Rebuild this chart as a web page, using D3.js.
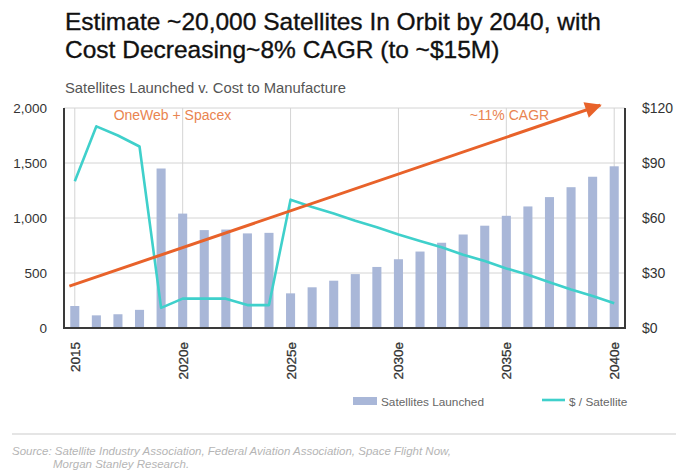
<!DOCTYPE html>
<html>
<head>
<meta charset="utf-8">
<script src="https://cdn.jsdelivr.net/npm/d3@7"></script>
<style>
  body { margin: 0; background: #fff; }
  svg { display: block; font-family: "Liberation Sans", Arial, sans-serif; }
</style>
</head>
<body>
<div id="chart"></div>
<script>
// years on the x axis
var years = [2015, 2016, 2017, 2018, 2019, 2020, 2021, 2022, 2023, 2024, 2025, 2026, 2027,
             2028, 2029, 2030, 2031, 2032, 2033, 2034, 2035, 2036, 2037, 2038, 2039, 2040];
var yearLabels = {2015: "2015", 2020: "2020e", 2025: "2025e", 2030: "2030e", 2035: "2035e", 2040: "2040e"};

// satellites launched (left axis)
var launched = [200, 115, 125, 165, 1450, 1040, 890, 895, 860, 865, 315, 370, 430,
                490, 555, 625, 695, 775, 850, 930, 1020, 1105, 1190, 1280, 1375, 1470];

// $ / satellite, $M (right axis)
var costPerSat = [80, 110, 105, 99, 11, 16, 16, 16, 12.5, 12.5, 70, 66, 62.5,
                  58.5, 55, 51, 47.5, 44, 40, 36.5, 32.5, 29, 25, 21, 17.5, 13.5];

var leftTicks = [0, 500, 1000, 1500, 2000];
var rightTicks = [0, 30, 60, 90, 120];

// ~11% CAGR arrow, in (year, satellites) units
var trendFrom = [2014.75, 380];
var trendTo = [2039.35, 2025];

var width = 676, height = 472;
var margin = {top: 108, right: 51, bottom: 144, left: 64};

var svg = d3.select("#chart").append("svg")
    .attr("width", width)
    .attr("height", height);

var x = d3.scaleBand()
    .domain(years)
    .range([margin.left, width - margin.right])
    .paddingInner(0.58)
    .paddingOuter(0.29);

var xYear = d3.scaleLinear()
    .domain([2015, 2040])
    .range([x(2015) + x.bandwidth() / 2, x(2040) + x.bandwidth() / 2]);

var yL = d3.scaleLinear().domain([0, 2000]).range([height - margin.bottom, margin.top]);
var yR = d3.scaleLinear().domain([0, 120]).range([height - margin.bottom, margin.top]);

// titles
var title = svg.append("text")
    .attr("x", 65).attr("y", 30)
    .attr("font-size", 24.5)
    .attr("fill", "#111")
    .attr("stroke", "#111").attr("stroke-width", 0.35);
title.append("tspan").attr("x", 65).text("Estimate ~20,000 Satellites In Orbit by 2040, with");
title.append("tspan").attr("x", 65).attr("dy", 28).text("Cost Decreasing~8% CAGR (to ~$15M)");

svg.append("text")
    .attr("x", 65).attr("y", 93)
    .attr("font-size", 14.8)
    .attr("fill", "#555")
    .text("Satellites Launched v. Cost to Manufacture");

// grid
svg.append("g").selectAll("line.h")
    .data(leftTicks.slice(1))
    .join("line")
    .attr("x1", margin.left).attr("x2", width - margin.right)
    .attr("y1", d => yL(d)).attr("y2", d => yL(d))
    .attr("stroke", "#d4d4d4").attr("stroke-width", 1);

svg.append("g").selectAll("line.v")
    .data(years.filter(d => yearLabels[d]))
    .join("line")
    .attr("x1", d => xYear(d)).attr("x2", d => xYear(d))
    .attr("y1", yL(0)).attr("y2", yL(2000))
    .attr("stroke", "#d4d4d4").attr("stroke-width", 1);

// bars
svg.append("g").selectAll("rect")
    .data(years)
    .join("rect")
    .attr("x", d => x(d))
    .attr("width", x.bandwidth())
    .attr("y", (d, i) => yL(launched[i]))
    .attr("height", (d, i) => yL(0) - yL(launched[i]))
    .attr("fill", "#a9b7d8");

// axes lines
var axisColor = "#3a3a3a";
svg.append("line")
    .attr("x1", margin.left).attr("x2", margin.left)
    .attr("y1", yL(2000)).attr("y2", yL(0) + 1)
    .attr("stroke", axisColor).attr("stroke-width", 2);
svg.append("line")
    .attr("x1", width - margin.right).attr("x2", width - margin.right)
    .attr("y1", yL(2000)).attr("y2", yL(0) + 1)
    .attr("stroke", axisColor).attr("stroke-width", 2);
svg.append("line")
    .attr("x1", margin.left - 1).attr("x2", width - margin.right + 1)
    .attr("y1", yL(0)).attr("y2", yL(0))
    .attr("stroke", axisColor).attr("stroke-width", 2);

// left axis labels
var leftAxis = d3.axisLeft(yL).tickValues(leftTicks).tickSize(0).tickPadding(17)
    .tickFormat(d3.format(","));
svg.append("g")
    .attr("transform", "translate(" + margin.left + ",0)")
    .call(leftAxis)
    .call(g => g.select(".domain").remove())
    .call(g => g.selectAll("text").attr("font-size", 13.5).attr("fill", "#333")
        .attr("font-family", "Liberation Sans, Arial, sans-serif"));

// right axis labels
var rightAxis = d3.axisRight(yR).tickValues(rightTicks).tickSize(0).tickPadding(17)
    .tickFormat(d => "$" + d);
svg.append("g")
    .attr("transform", "translate(" + (width - margin.right) + ",0)")
    .call(rightAxis)
    .call(g => g.select(".domain").remove())
    .call(g => g.selectAll("text").attr("font-size", 14).attr("fill", "#333")
        .attr("font-family", "Liberation Sans, Arial, sans-serif"));

// x labels, rotated
svg.append("g").selectAll("text")
    .data(years.filter(d => yearLabels[d]))
    .join("text")
    .attr("transform", d => "translate(" + (xYear(d) + 5) + "," + (yL(0) + 14) + ") rotate(-90)")
    .attr("text-anchor", "end")
    .attr("font-size", 13.5)
    .attr("fill", "#333")
    .attr("stroke", "#333").attr("stroke-width", 0.3)
    .text(d => yearLabels[d]);

// cost line
var line = d3.line()
    .x((d, i) => xYear(years[i]))
    .y(d => yR(d));
svg.append("path")
    .datum(costPerSat)
    .attr("d", line)
    .attr("fill", "none")
    .attr("stroke", "#3fd0cb")
    .attr("stroke-width", 2.6)
    .attr("stroke-linejoin", "round");

// trend arrow
svg.append("defs").append("marker")
    .attr("id", "arrow")
    .attr("viewBox", "0 0 10 10")
    .attr("refX", 9).attr("refY", 5)
    .attr("markerWidth", 7).attr("markerHeight", 5.5)
    .attr("markerUnits", "strokeWidth")
    .attr("orient", "auto")
  .append("path")
    .attr("d", "M0,0 L10,5 L0,10 Z")
    .attr("fill", "#e8622a");

svg.append("line")
    .attr("x1", xYear(trendFrom[0])).attr("y1", yL(trendFrom[1]))
    .attr("x2", xYear(trendTo[0])).attr("y2", yL(trendTo[1]))
    .attr("stroke", "#e8622a")
    .attr("stroke-width", 3)
    .attr("marker-end", "url(#arrow)");

// annotations
svg.append("text")
    .attr("x", xYear(2016.8)).attr("y", yL(1890))
    .attr("font-size", 14)
    .attr("fill", "#e98450")
    .text("OneWeb + Spacex");

svg.append("text")
    .attr("x", xYear(2033.3)).attr("y", yL(1890))
    .attr("font-size", 14)
    .attr("fill", "#e98450")
    .text("~11% CAGR");

// legend
var legend = svg.append("g").attr("transform", "translate(0,401)");
legend.append("rect")
    .attr("x", 353).attr("y", -4).attr("width", 24).attr("height", 8)
    .attr("fill", "#a9b7d8");
legend.append("text")
    .attr("x", 381).attr("y", 5)
    .attr("font-size", 11.8)
    .attr("fill", "#666")
    .text("Satellites Launched");
legend.append("line")
    .attr("x1", 542).attr("x2", 565)
    .attr("y1", -1).attr("y2", -1)
    .attr("stroke", "#3fd0cb").attr("stroke-width", 2.6);
legend.append("text")
    .attr("x", 569).attr("y", 5)
    .attr("font-size", 11.8)
    .attr("fill", "#666")
    .text("$ / Satellite");

// source
svg.append("line")
    .attr("x1", 12).attr("x2", width)
    .attr("y1", 434).attr("y2", 434)
    .attr("stroke", "#dcdcdc").attr("stroke-width", 1.5);

var source = svg.append("text")
    .attr("font-size", 11.5)
    .attr("font-style", "italic")
    .attr("fill", "#b5b5b5");
source.append("tspan").attr("x", 12).attr("y", 455)
    .text("Source: Satellite Industry Association, Federal Aviation Association, Space Flight Now,");
source.append("tspan").attr("x", 53).attr("y", 468)
    .text("Morgan Stanley Research.");
</script>
</body>
</html>
